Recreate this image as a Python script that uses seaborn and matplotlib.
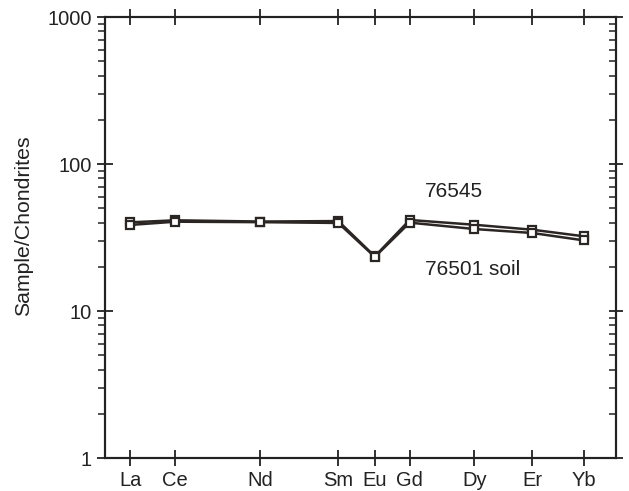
import numpy as np
import pandas as pd
import matplotlib
matplotlib.use("Agg")
import matplotlib.pyplot as plt
import seaborn as sns

# REE pattern data (chondrite normalised)
elements = ["La", "Ce", "Nd", "Sm", "Eu", "Gd", "Dy", "Er", "Yb"]
atomic_num = [57, 58, 60, 62, 63, 64, 66, 68, 70]
s76545 = [40.2, 41.5, 40.7, 41.0, 23.6, 41.7, 38.7, 35.8, 32.3]
s76501 = [38.6, 40.6, 40.3, 39.8, 23.4, 40.0, 36.2, 34.0, 30.3]

df = pd.DataFrame({
    "z": atomic_num * 2,
    "value": s76545 + s76501,
    "sample": ["76545"] * 9 + ["76501 soil"] * 9,
})

sns.set_style("ticks")
plt.rcParams["font.family"] = ["Liberation Sans", "DejaVu Sans"]

# slightly compressed x spacing, as in the printed figure
A, C = 45.3, 0.828
def fwd(z):
    t = np.clip(np.asarray(z, dtype=float) - 57, -20, 27)
    return A * t - C * t ** 2
def inv(u):
    u = np.minimum(np.asarray(u, dtype=float), A ** 2 / (4 * C) - 1e-6)
    return 57 + (A - np.sqrt(A ** 2 - 4 * C * u)) / (2 * C)

fig = plt.figure(figsize=(6.29, 4.91), dpi=100)
ax = fig.add_axes([0.167, 0.067, 0.812, 0.898])
ax.set_xscale("function", functions=(fwd, inv))
ax.set_yscale("log")

for name in ["76545", "76501 soil"]:
    sns.lineplot(data=df[df["sample"] == name], x="z", y="value", ax=ax,
                 color="#2b2623", lw=1.8, marker="s", markersize=6,
                 markerfacecolor="white", markeredgecolor="#2b2623",
                 markeredgewidth=1.6)

ax.set_xlim(56.45, 71.4)
ax.set_ylim(1, 1000)
ax.set_xticks(atomic_num)
ax.set_xticklabels(elements)
ax.set_xlabel("")
ax.set_ylabel("Sample/Chondrites", fontsize=15.3, color="#222222")
ax.yaxis.set_label_coords(-0.141, 0.526)
ax.set_yticks([1, 10, 100, 1000])
ax.set_yticklabels(["1", "10", "100", "1000"])

ax.tick_params(axis="x", direction="inout", length=12, width=1.3, top=True,
               labelsize=14.5, pad=3, colors="#222222")
ax.tick_params(axis="y", which="major", direction="inout", length=12, width=1.3,
               right=False, labelsize=14.5, colors="#222222")
ax.tick_params(axis="y", which="minor", direction="out", length=5, width=1.1,
               right=False, colors="#222222")

ax2 = ax.twinx()
ax2.set_yscale("log")
ax2.set_ylim(1, 1000)
ax2.tick_params(axis="y", which="major", direction="inout", length=10, width=1.3,
                labelright=False, colors="#222222")
ax2.tick_params(axis="y", which="minor", direction="in", length=5, width=1.1,
                labelright=False, colors="#222222")

for a in (ax, ax2):
    for sp in a.spines.values():
        sp.set_linewidth(1.5)
        sp.set_color("#222222")

ax.text(64.45, 65, "76545", fontsize=15, color="#222222", va="center")
ax.text(64.45, 19.1, "76501 soil", fontsize=15, color="#222222", va="center")

fig.savefig("out.png", dpi=100)
